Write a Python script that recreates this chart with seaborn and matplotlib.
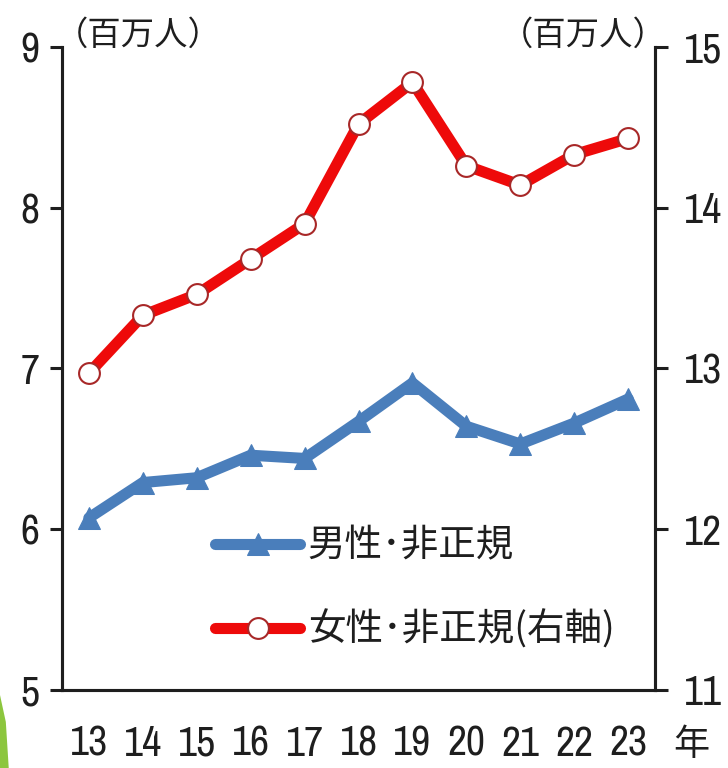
import matplotlib
matplotlib.use("Agg")
import matplotlib.pyplot as plt
from matplotlib.patches import Polygon
from matplotlib.ticker import FixedLocator, MultipleLocator
import seaborn as sns
import numpy as np

# data
years = [13, 14, 15, 16, 17, 18, 19, 20, 21, 22, 23]
year_labels = ["13", "14", "15", "16", "17", "18", "19", "20", "21", "22", "23"]
male = [6.07, 6.29, 6.32, 6.46, 6.44, 6.67, 6.91, 6.64, 6.53, 6.66, 6.81]
female = [12.97, 13.33, 13.46, 13.68, 13.90, 14.52, 14.78, 14.26, 14.14, 14.33, 14.43]
male_name = "男性･非正規"
female_name = "女性･非正規(右軸)"
unit = "（百万人）"

sns.set_style("white")
plt.rcParams["font.family"] = ["Archivo Narrow", "Noto Sans CJK JP", "DejaVu Sans"]
plt.rcParams["axes.linewidth"] = 2.2
ink = "#1e1e1e"
cjk = ["Noto Sans CJK JP", "DejaVu Sans"]

fig = plt.figure(figsize=(7.28, 7.68), dpi=100)
ax = fig.add_axes([0.085, 0.1016, 0.815, 0.8374])
ax2 = ax.twinx()

sns.lineplot(x=years, y=male, ax=ax, color="#4a7ebb", lw=8, marker="^",
             markersize=16, markeredgecolor="#4a7ebb", label=male_name, legend=False)
sns.lineplot(x=years, y=female, ax=ax2, color="#ee0a0a", lw=8, marker="o",
             markersize=15, markerfacecolor="white", markeredgecolor="#a82828",
             markeredgewidth=1.5, label=female_name, legend=False)

ax.set_xlim(12.5, 23.5)
ax.set_ylim(5, 9)
ax2.set_ylim(11, 15)

for a in (ax, ax2):
    a.spines["top"].set_visible(False)
    for s in a.spines.values():
        s.set_color(ink)

ax.set_xticks(years)
ax.set_xticklabels(year_labels)
ax.xaxis.set_minor_locator(FixedLocator(np.arange(12.5, 24, 1)))
ax.tick_params(axis="x", which="major", length=0, pad=25, labelsize=30, labelcolor=ink)
ax.tick_params(axis="x", which="minor", length=10, width=2.2, direction="out", color=ink)
ax.yaxis.set_major_locator(MultipleLocator(1))
ax2.yaxis.set_major_locator(MultipleLocator(1))
ax.tick_params(axis="y", length=9, width=2.2, direction="out", labelsize=30,
               labelcolor=ink, color=ink, pad=7, left=True)
ax2.tick_params(axis="y", length=9, width=2.2, direction="out", labelsize=30,
                labelcolor=ink, color=ink, pad=12, right=True)
for lab in ax.get_xticklabels() + ax.get_yticklabels() + ax2.get_yticklabels():
    lab.set_fontweight("medium")
ax.set_xlabel("")
ax.set_ylabel("")
ax2.set_ylabel("")

fig.text(0.950, 0.030, "年", fontsize=26, color=ink, ha="center", va="center", family=cjk)
fig.text(0.0755, 0.954, unit, fontsize=24, color=ink, ha="left", va="center", family=cjk)
fig.text(0.916, 0.954, unit, fontsize=24, color=ink, ha="right", va="center", family=cjk)

h1, l1 = ax.get_legend_handles_labels()
h2, l2 = ax2.get_legend_handles_labels()
leg = ax2.legend(h1 + h2, l1 + l2, loc="center left", bbox_to_anchor=(0.258, 0.158),
                 frameon=False, handlelength=2.27, handletextpad=0.2,
                 labelspacing=1.2, borderaxespad=0, borderpad=0,
                 prop={"family": cjk, "size": 27})
for t in leg.get_texts():
    t.set_color(ink)

# green slide decoration at the lower left
fig.patches.append(Polygon([(0, 0), (0.012, 0), (0.008, 0.06), (0, 0.095)],
                           closed=True, transform=fig.transFigure,
                           facecolor="#8cc63e", edgecolor="none"))

fig.savefig("out.png", dpi=100)
